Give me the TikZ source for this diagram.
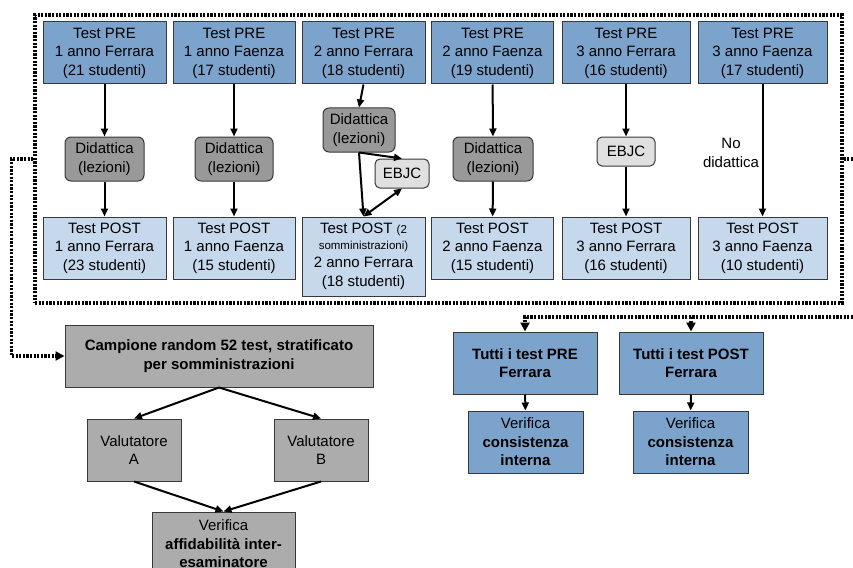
\documentclass[tikz,border=0pt]{standalone}
\usepackage{fontspec}
\setmainfont{Liberation Sans}
\usetikzlibrary{arrows.meta}
\definecolor{preblu}{RGB}{124,163,204}
\definecolor{postblu}{RGB}{198,216,235}
\definecolor{grigioscuro}{RGB}{153,153,153}
\definecolor{grigiochiaro}{RGB}{224,224,224}
\definecolor{grigiomedio}{RGB}{172,172,172}
\definecolor{bordo}{RGB}{56,56,56}
\tikzstyle{box} = [rectangle, draw=bordo, line width=1pt, align=center, inner sep=0pt, font=\fontsize{15}{18.5}\selectfont]
\tikzstyle{pre} = [box, fill=preblu, minimum height=62pt]
\tikzstyle{post} = [box, fill=postblu, minimum height=62pt]
\tikzstyle{lezione} = [box, rounded corners=6pt, fill=grigioscuro, minimum height=44pt]
\tikzstyle{ebjc} = [box, rounded corners=5pt, fill=grigiochiaro, minimum height=29pt]
\tikzstyle{campione} = [box, fill=grigiomedio, minimum height=62pt]
\tikzstyle{freccia} = [-{Triangle[length=8pt,width=7pt]}, line width=2pt]
\tikzstyle{legame} = [line width=3.2pt, dash pattern=on 2.2pt off 1.4pt]
\tikzstyle{puntalegame} = [-{Triangle[length=9pt,width=9pt]}]

\begin{document}
\begin{tikzpicture}[x=1pt, y=-1pt]
    \clip (0,0) rectangle (853,567);
    % Test PRE
    \node[pre, minimum width=123pt] (pre1) at (104.5,53) {Test PRE\\1 anno Ferrara\\(21 studenti)};
    \node[pre, minimum width=122pt] (pre2) at (234,53) {Test PRE\\1 anno Faenza\\(17 studenti)};
    \node[pre, minimum width=123pt] (pre3) at (363.5,53) {Test PRE\\2 anno Ferrara\\(18 studenti)};
    \node[pre, minimum width=122pt] (pre4) at (492.5,53) {Test PRE\\2 anno Faenza\\(19 studenti)};
    \node[pre, minimum width=128pt] (pre5) at (626,53) {Test PRE\\3 anno Ferrara\\(16 studenti)};
    \node[pre, minimum width=129pt] (pre6) at (762.5,53) {Test PRE\\3 anno Faenza\\(17 studenti)};
    
    % Interventi
    \node[lezione, minimum width=79pt] (did1) at (104.5,159) {Didattica\\(lezioni)};
    \node[lezione, minimum width=78pt] (did2) at (234,159) {Didattica\\(lezioni)};
    \node[lezione, minimum width=72pt] (did3) at (359,130) {Didattica\\(lezioni)};
    \node[ebjc, minimum width=54pt] (ebjc3) at (402,173.5) {EBJC};
    \node[lezione, minimum width=80pt] (did4) at (493,159) {Didattica\\(lezioni)};
    \node[ebjc, minimum width=58pt] (ebjc5) at (626,151.5) {EBJC};
    \node[align=center, font=\fontsize{15}{18.5}\selectfont] (nodid) at (731,153) {No\\didattica};
    
    % Test POST
    \node[post, minimum width=123pt] (post1) at (104.5,248) {Test POST\\1 anno Ferrara\\(23 studenti)};
    \node[post, minimum width=122pt] (post2) at (234,248) {Test POST\\1 anno Faenza\\(15 studenti)};
    \node[post, minimum width=123pt, minimum height=79pt] (post3) at (363.5,256.5) {Test POST {\fontsize{11.5}{13}\selectfont(2}\\[-3pt]{\fontsize{11.5}{13}\selectfont somministrazioni)}\\2 anno Ferrara\\(18 studenti)};
    \node[post, minimum width=122pt] (post4) at (492.5,248) {Test POST\\2 anno Faenza\\(15 studenti)};
    \node[post, minimum width=128pt] (post5) at (626,248) {Test POST\\3 anno Ferrara\\(16 studenti)};
    \node[post, minimum width=129pt] (post6) at (762.5,248) {Test POST\\3 anno Faenza\\(10 studenti)};
    
    % Frecce dei gruppi
    \draw[freccia] (pre1) -- (did1);
    \draw[freccia] (did1) -- (post1);
    \draw[freccia] (pre2) -- (did2);
    \draw[freccia] (did2) -- (post2);
    \draw[freccia] (pre3.south) -- (did3.north);
    \draw[freccia] (did3.south) -- (post3.north);
    \draw[freccia] (did3.south) -- (ebjc3.north);
    \draw[freccia, {Triangle[length=8pt,width=7pt]}-{Triangle[length=8pt,width=7pt]}] (post3.north) -- (ebjc3.south);
    \draw[freccia] (pre4) -- (did4);
    \draw[freccia] (did4) -- (post4);
    \draw[freccia] (pre5) -- (ebjc5);
    \draw[freccia] (ebjc5) -- (post5);
    \draw[freccia] (pre6) -- (post6);
    
    % Cornice
    \node[legame, draw, rectangle, minimum width=807pt, minimum height=288pt] (gruppo) at (438.5,159) {};
    
    % Affidabilita
    \node[campione, minimum width=308pt, font=\fontsize{15}{18.5}\selectfont\bfseries] (camp) at (219,356) {Campione random 52 test, stratificato\\per somministrazioni};
    \node[campione, minimum width=94pt] (valA) at (134,450) {Valutatore\\A};
    \node[campione, minimum width=94pt] (valB) at (321,450) {Valutatore\\B};
    \node[campione, minimum width=143pt, minimum height=64pt] (affid) at (223.5,544) {Verifica\\\textbf{affidabilità inter-}\\\textbf{esaminatore}};
    \draw[freccia] (camp.south) -- (valA.north);
    \draw[freccia] (camp.south) -- (valB.north);
    \draw[freccia] (valA.south) -- (affid.north);
    \draw[freccia] (valB.south) -- (affid.north);
    
    % Consistenza
    \node[pre, minimum width=144pt, font=\fontsize{15}{18.5}\selectfont\bfseries] (tuttipre) at (525,363) {Tutti i test PRE\\Ferrara};
    \node[pre, minimum width=144pt, font=\fontsize{15}{18.5}\selectfont\bfseries] (tuttipost) at (691,363) {Tutti i test POST\\Ferrara};
    \node[pre, minimum width=115pt] (conspre) at (525.5,442) {Verifica\\\textbf{consistenza}\\\textbf{interna}};
    \node[pre, minimum width=115pt] (conspost) at (690.5,442) {Verifica\\\textbf{consistenza}\\\textbf{interna}};
    \draw[freccia] (tuttipre) -- (conspre);
    \draw[freccia] (tuttipost) -- (conspost);
    
    % Legami tratteggiati
    \coordinate (uscita) at (853,159);
    \coordinate (rientro) at (853,317);
    \draw[legame, puntalegame] (gruppo.west) -- ++(-22,0) |- (camp.west);
    \draw[legame] (gruppo.east) -- (uscita);
    \draw[legame, puntalegame] (rientro) -| (tuttipre.north);
    \draw[legame, puntalegame] (rientro) -| (tuttipost.north);
\end{tikzpicture}
\end{document}
